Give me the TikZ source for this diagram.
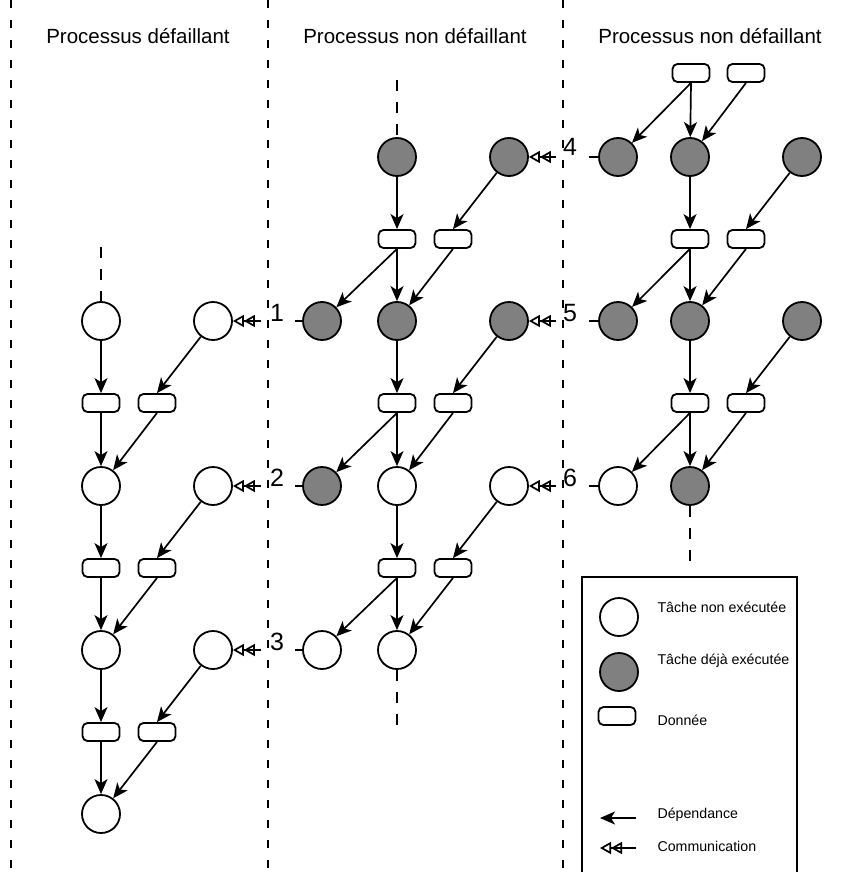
\documentclass[tikz,border=0pt]{standalone}
\usepackage{fontspec}
\setmainfont{Liberation Sans}
\usetikzlibrary{arrows.meta}
\definecolor{taskgray}{HTML}{808080}
\begin{document}
\begin{tikzpicture}[x=1pt,y=-1pt,
  task/.style={circle,draw,line width=1.8pt,minimum size=38pt,inner sep=0pt,fill=white},
  done/.style={task,fill=taskgray},
  datum/.style={draw,rounded corners=5pt,line width=1.8pt,minimum width=37pt,minimum height=18pt,inner sep=0pt,fill=white},
  dep/.style={line width=1.7pt,-{Stealth[length=15pt,width=13pt,inset=4pt]}},
  comm/.style={line width=1.7pt,-{Triangle[open,length=11pt,width=12pt]Triangle[open,length=11pt,width=12pt]}},
  plain/.style={line width=1.7pt},
  sep/.style={line width=1.2pt,dash pattern=on 8pt off 12pt},
  stub/.style={line width=1.5pt,dash pattern=on 11pt off 11pt},
  ttl/.style={font=\fontsize{20.5}{24}\selectfont,anchor=base},
  num/.style={font=\fontsize{25}{28}\selectfont,anchor=base},
  leg/.style={font=\fontsize{14.2}{18}\selectfont,anchor=west}
]
\useasboundingbox (0,0) rectangle (850,872);

% separators
\coordinate (v1t) at (11,0);   \coordinate (v1b) at (11,872);
\coordinate (v2t) at (268,0);  \coordinate (v2b) at (268,872);
\coordinate (v3t) at (563,0);  \coordinate (v3b) at (563,872);
\draw[sep] (v1t) -- (v1b);
\draw[sep] (v2t) -- (v2b);
\draw[sep] (v3t) -- (v3b);

% titles
\node[ttl] (t1) at (138,44) {Processus défaillant};
\node[ttl] (t2) at (415,44) {Processus non défaillant};
\node[ttl] (t3) at (710,44) {Processus non défaillant};

% ---------- column 1 ----------
\node[task] (a1) at (101,321) {};
\node[task] (b1) at (213,321) {};
\node[datum] (ad1) at (101,403) {};
\node[datum] (bd1) at (157,403) {};
\node[task] (a2) at (101,486) {};
\node[task] (b2) at (213,486) {};
\node[datum] (ad2) at (101,568) {};
\node[datum] (bd2) at (157,568) {};
\node[task] (a3) at (101,650) {};
\node[task] (b3) at (213,650) {};
\node[datum] (ad3) at (101,732) {};
\node[datum] (bd3) at (157,732) {};
\node[task] (a4) at (101,814) {};

\draw[dep] (a1) -- (ad1.north);
\draw[dep] (ad1.south) -- (a2);
\draw[dep] (b1) -- (bd1.north);
\draw[dep] (bd1.south) -- (a2);
\draw[dep] (a2) -- (ad2.north);
\draw[dep] (ad2.south) -- (a3);
\draw[dep] (b2) -- (bd2.north);
\draw[dep] (bd2.south) -- (a3);
\draw[dep] (a3) -- (ad3.north);
\draw[dep] (ad3.south) -- (a4);
\draw[dep] (b3) -- (bd3.north);
\draw[dep] (bd3.south) -- (a4);

\coordinate (s1) at (101,247);
\draw[stub] (s1) -- (a1);

% ---------- column 2 ----------
\node[done] (m0) at (397,157) {};
\node[done] (r0) at (509,157) {};
\node[datum] (md0) at (397,239) {};
\node[datum] (rd0) at (453,239) {};
\node[done] (c1) at (322,321) {};
\node[done] (m1) at (397,321) {};
\node[done] (r1) at (509,321) {};
\node[datum] (md1) at (397,403) {};
\node[datum] (rd1) at (453,403) {};
\node[done] (c2) at (322,486) {};
\node[task] (m2) at (397,486) {};
\node[task] (r2) at (509,486) {};
\node[datum] (md2) at (397,568) {};
\node[datum] (rd2) at (453,568) {};
\node[task] (c3) at (322,650) {};
\node[task] (m3) at (397,650) {};

\draw[dep] (m0) -- (md0.north);
\draw[dep] (r0) -- (rd0.north);
\draw[dep] (md0.south) -- (c1);
\draw[dep] (md0.south) -- (m1);
\draw[dep] (rd0.south) -- (m1);
\draw[dep] (m1) -- (md1.north);
\draw[dep] (r1) -- (rd1.north);
\draw[dep] (md1.south) -- (c2);
\draw[dep] (md1.south) -- (m2);
\draw[dep] (rd1.south) -- (m2);
\draw[dep] (m2) -- (md2.north);
\draw[dep] (r2) -- (rd2.north);
\draw[dep] (md2.south) -- (c3);
\draw[dep] (md2.south) -- (m3);
\draw[dep] (rd2.south) -- (m3);

\coordinate (s2) at (397,80);
\draw[stub] (s2) -- (m0);
\coordinate (s3) at (397,728);
\draw[stub] (m3) -- (s3);

% ---------- column 3 ----------
\node[datum] (yd0) at (691,73) {};
\node[datum] (zd0) at (746,73) {};
\node[done] (x1) at (618,157) {};
\node[done] (y1) at (690,157) {};
\node[done] (z1) at (802,157) {};
\node[datum] (yd1) at (690,239) {};
\node[datum] (zd1) at (746,239) {};
\node[done] (x2) at (618,321) {};
\node[done] (y2) at (690,321) {};
\node[done] (z2) at (802,321) {};
\node[datum] (yd2) at (690,403) {};
\node[datum] (zd2) at (746,403) {};
\node[task] (x3) at (618,486) {};
\node[done] (y3) at (690,486) {};

\draw[dep] (yd0.south) -- (x1);
\draw[dep] (yd0.south) -- (y1);
\draw[dep] (zd0.south) -- (y1);
\draw[dep] (y1) -- (yd1.north);
\draw[dep] (z1) -- (zd1.north);
\draw[dep] (yd1.south) -- (x2);
\draw[dep] (yd1.south) -- (y2);
\draw[dep] (zd1.south) -- (y2);
\draw[dep] (y2) -- (yd2.north);
\draw[dep] (z2) -- (zd2.north);
\draw[dep] (yd2.south) -- (x3);
\draw[dep] (yd2.south) -- (y3);
\draw[dep] (zd2.south) -- (y3);

\coordinate (s4) at (690,561);
\draw[stub] (y3) -- (s4);

% ---------- communications ----------
\coordinate (k1a) at (295,321); \coordinate (k1b) at (261,321);
\draw[plain] (c1) -- (k1a); \draw[comm] (k1b) -- (b1);
\node[num] (n1) at (277,321) {1};
\coordinate (k2a) at (295,486); \coordinate (k2b) at (261,486);
\draw[plain] (c2) -- (k2a); \draw[comm] (k2b) -- (b2);
\node[num] (n2) at (277,486) {2};
\coordinate (k3a) at (295,650); \coordinate (k3b) at (261,650);
\draw[plain] (c3) -- (k3a); \draw[comm] (k3b) -- (b3);
\node[num] (n3) at (277,650) {3};
\coordinate (k4a) at (589,157); \coordinate (k4b) at (556,157);
\draw[plain] (x1) -- (k4a); \draw[comm] (k4b) -- (r0);
\node[num] (n4) at (570,155) {4};
\coordinate (k5a) at (589,321); \coordinate (k5b) at (556,321);
\draw[plain] (x2) -- (k5a); \draw[comm] (k5b) -- (r1);
\node[num] (n5) at (570,321) {5};
\coordinate (k6a) at (589,486); \coordinate (k6b) at (556,486);
\draw[plain] (x3) -- (k6a); \draw[comm] (k6b) -- (r2);
\node[num] (n6) at (570,486) {6};

% ---------- legend ----------
\coordinate (lg1) at (582,880); \coordinate (lg2) at (797,577); \coordinate (lg3) at (797,880);
\draw[line width=1.2pt] (lg1) |- (lg2) -- (lg3);
\node[task] (l1) at (619,617) {};
\node[leg] (lt1) at (654,607) {Tâche non exécutée};
\node[done] (l2) at (619,672) {};
\node[leg] (lt2) at (654,661) {Tâche déjà exécutée};
\node[datum] (l3) at (617,716) {};
\node[leg] (lt3) at (654,720) {Donnée};
\coordinate (l4a) at (636,818); \coordinate (l4b) at (600,818);
\draw[dep] (l4a) -- (l4b);
\node[leg] (lt4) at (654,815) {Dépendance};
\coordinate (l5a) at (636,848); \coordinate (l5b) at (600,848);
\draw[comm] (l5a) -- (l5b);
\node[leg] (lt5) at (654,846) {Communication};
\end{tikzpicture}
\end{document}
